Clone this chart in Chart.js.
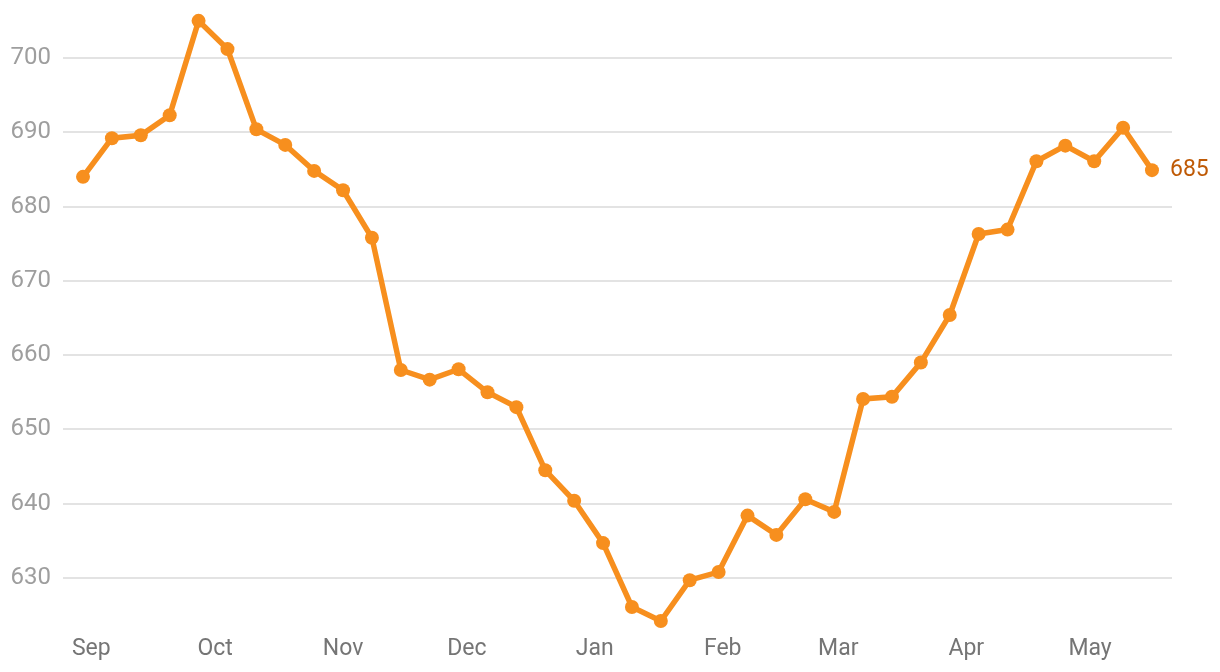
<!DOCTYPE html>
<html>
<head>
<meta charset="utf-8">
<script src="https://cdn.jsdelivr.net/npm/chart.js@4"></script>
<style>
  html, body { margin: 0; padding: 0; background: #fff; }
  #wrap { width: 1220px; height: 672px; }
</style>
</head>
<body>
<div id="wrap"><canvas id="myChart" width="1220" height="672"></canvas></div>
<script>
// weekly values, first week ends 2 days before Sep 1
const firstDay = -2;
const values = [684.0, 689.2, 689.6, 692.3, 705.0, 701.2, 690.4, 688.3, 684.8, 682.2,
  675.8, 658.0, 656.7, 658.1, 655.0, 653.0, 644.5, 640.4, 634.7, 626.1,
  624.2, 629.7, 630.8, 638.4, 635.8, 640.6, 638.9, 654.1, 654.4, 659.0,
  665.4, 676.3, 676.9, 686.1, 688.2, 686.1, 690.6, 684.9];
const monthLabels = ['Sep', 'Oct', 'Nov', 'Dec', 'Jan', 'Feb', 'Mar', 'Apr', 'May'];
const monthDays = [0, 30, 61, 91, 122, 153, 181, 212, 242];
const yTicks = [630, 640, 650, 660, 670, 680, 690, 700];
const lastLabel = '685';

const points = values.map((v, i) => ({ x: firstDay + 7 * i, y: v }));

const endLabel = {
  id: 'endLabel',
  afterDatasetsDraw(chart) {
    const meta = chart.getDatasetMeta(0);
    const pt = meta.data[meta.data.length - 1];
    const c = chart.ctx;
    c.save();
    c.font = '23px Roboto';
    c.fillStyle = '#bf5a06';
    c.textAlign = 'left';
    c.textBaseline = 'middle';
    c.fillText(lastLabel, pt.x + 18, pt.y);
    c.restore();
  }
};

// no extra room for label overflow
function noPad(axis) {
  axis.paddingTop = 0;
  axis.paddingBottom = 0;
  axis.paddingLeft = 0;
  axis.paddingRight = 0;
}

const ctx = document.getElementById('myChart').getContext('2d');
const myChart = new Chart(ctx, {
  type: 'line',
  data: {
    datasets: [{
      data: points,
      borderColor: '#f78f1e',
      backgroundColor: '#f78f1e',
      borderWidth: 5.5,
      pointRadius: 7,
      pointBackgroundColor: '#f78f1e',
      pointBorderWidth: 0,
      tension: 0
    }]
  },
  options: {
    responsive: false,
    animation: false,
    layout: { padding: { left: 0, right: 48, top: 8, bottom: 0 } },
    plugins: { legend: { display: false }, tooltip: { enabled: false } },
    scales: {
      x: {
        type: 'linear',
        min: -6.85,
        max: 261.85,
        afterBuildTicks: axis => { axis.ticks = monthDays.map(d => ({ value: d })); },
        afterFit: axis => { axis.height = 38; noPad(axis); },
        grid: { display: false, drawTicks: false },
        border: { display: false },
        ticks: {
          autoSkip: false,
          maxRotation: 0,
          padding: 1,
          color: '#757575',
          font: { family: 'Roboto', size: 23 },
          callback: v => monthLabels[monthDays.indexOf(v)]
        }
      },
      y: {
        min: 622.46,
        max: 706.73,
        afterBuildTicks: axis => { axis.ticks = yTicks.map(v => ({ value: v })); },
        afterFit: axis => { axis.width = 63; noPad(axis); },
        grid: { color: '#e3e3e3', lineWidth: 2, drawTicks: false },
        border: { display: false },
        ticks: {
          padding: 12,
          color: '#9e9e9e',
          font: { family: 'Roboto', size: 24 }
        }
      }
    }
  },
  plugins: [endLabel]
});
</script>
</body>
</html>
